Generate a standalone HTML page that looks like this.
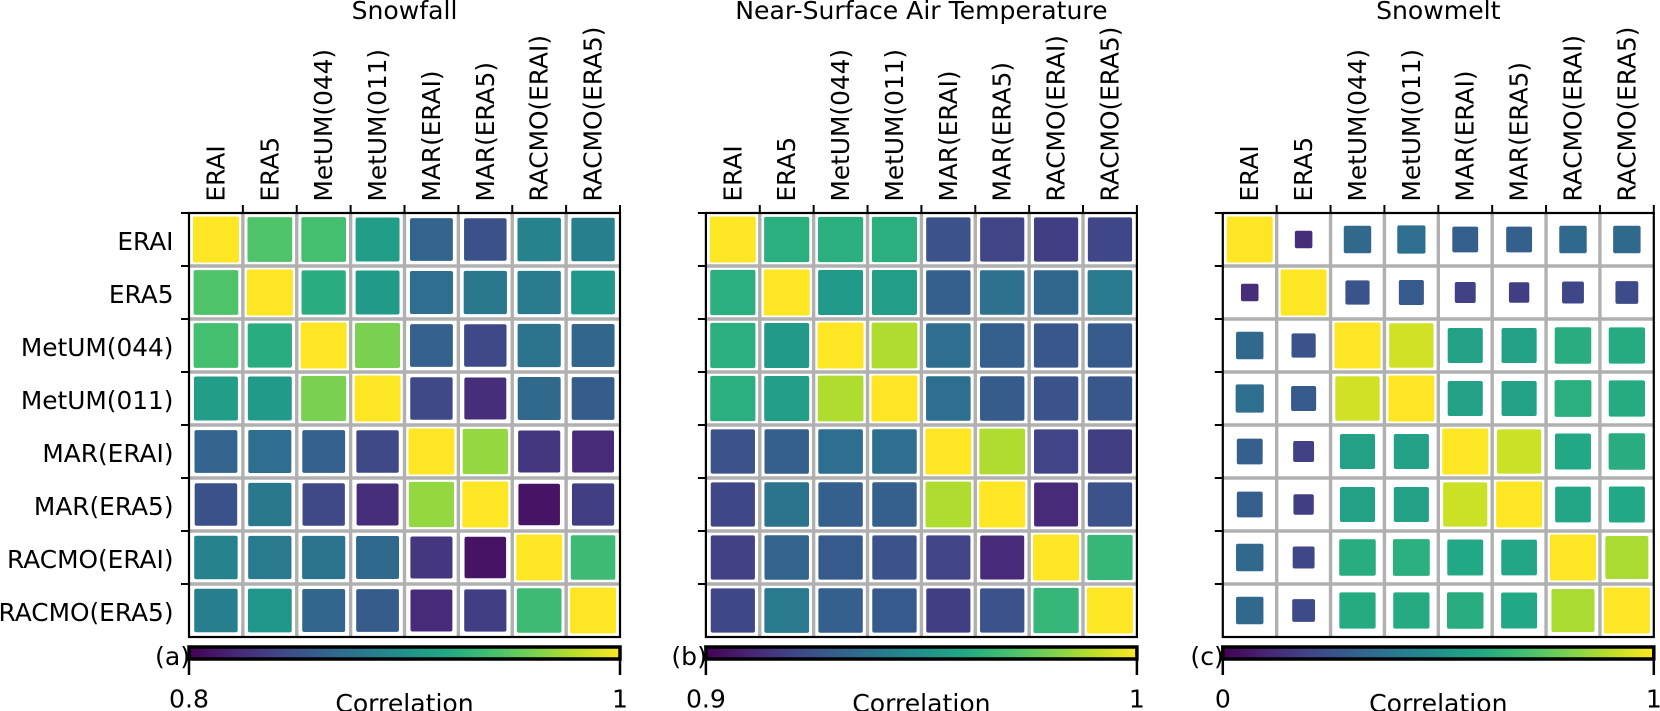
<!DOCTYPE html>
<html lang="en">
<head>
<meta charset="utf-8">
<title>Correlation matrices</title>
<style>
html,body{margin:0;padding:0;background:#fff;width:1660px;height:711px;overflow:hidden}
svg{display:block}
text{font-family:"DejaVu Sans","Liberation Sans",sans-serif;font-size:25.1px;fill:#000}
text.tick-text{font-size:24.8px}
</style>
</head>
<body>
<svg id="chart" xmlns="http://www.w3.org/2000/svg" width="1660" height="711" viewBox="0 0 1660 711">
  <defs>
    <linearGradient id="viridis-gradient" x1="0" x2="1" y1="0" y2="0"></linearGradient>
  </defs>
</svg>
<script>
const modelLabels = ["ERAI","ERA5","MetUM(044)","MetUM(011)","MAR(ERAI)","MAR(ERA5)","RACMO(ERAI)","RACMO(ERA5)"];
const panelTitles = ["Snowfall","Near-Surface Air Temperature","Snowmelt"];
const panelLetters = ["(a)","(b)","(c)"];
const colorbarMin = [0.8,0.9,0];
const colorbarMinLabels = ["0.8","0.9","0"];
const colorbarMaxLabel = "1";
const colorbarTitle = "Correlation";
const snowfallValues = [
  [1,.944,.940,.910,.864,.850,.888,.886],
  [.944,1,.924,.908,.872,.880,.882,.904],
  [.940,.924,1,.960,.862,.844,.876,.866],
  [.910,.908,.960,1,.844,.826,.868,.858],
  [.864,.872,.862,.844,1,.968,.832,.824],
  [.850,.880,.844,.826,.968,1,.810,.836],
  [.888,.882,.876,.868,.832,.810,1,.936],
  [.886,.904,.866,.858,.824,.836,.936,1]
];
const temperatureValues = [
  [1,.963,.963,.963,.925,.920,.918,.921],
  [.963,1,.954,.956,.930,.937,.933,.941],
  [.963,.954,1,.988,.936,.930,.927,.928],
  [.963,.956,.988,1,.936,.929,.926,.927],
  [.925,.930,.936,.936,1,.988,.920,.918],
  [.921,.938,.930,.930,.988,1,.912,.925],
  [.919,.932,.928,.926,.920,.912,1,.966],
  [.921,.941,.930,.928,.918,.925,.966,1]
];
const snowmeltValues = [
  [1,.13,.34,.36,.30,.30,.34,.34],
  [.13,1,.26,.28,.19,.18,.21,.23],
  [.34,.26,1,.93,.57,.57,.62,.61],
  [.36,.28,.93,1,.57,.57,.63,.61],
  [.30,.19,.57,.57,1,.92,.60,.62],
  [.30,.18,.57,.57,.92,1,.59,.60],
  [.34,.21,.62,.63,.60,.59,1,.87],
  [.34,.23,.61,.61,.62,.60,.87,1]
];
const panelValues = [snowfallValues,temperatureValues,snowmeltValues];
const viridisStops = ["#440154","#482475","#414487","#355f8d","#2a788e","#21918c","#22a884","#44bf70","#7ad151","#bddf26","#fde725"];

const svg = document.getElementById('chart');
const NS = 'http://www.w3.org/2000/svg';
const originX = 189;
const panelStep = 516.9;
const plotTop = 213;
const plotW = 431;
const plotH = 424;
const maxSide = 46;

function mk(parent, tag, attrs, text) {
  const el = document.createElementNS(NS, tag);
  for (const k in attrs) el.setAttribute(k, attrs[k]);
  if (text !== undefined) el.textContent = text;
  parent.appendChild(el);
  return el;
}
function rgb(hex) {
  return [1,3,5].map(i => parseInt(hex.substr(i,2),16));
}
function viridis(t) {
  const u = Math.max(0, Math.min(1, t)) * (viridisStops.length - 1);
  const i = Math.min(Math.floor(u), viridisStops.length - 2);
  const a = rgb(viridisStops[i]), b = rgb(viridisStops[i+1]);
  const f = u - i;
  return 'rgb(' + a.map((v,j) => Math.round(v + (b[j]-v)*f)).join(',') + ')';
}

const gradient = document.getElementById('viridis-gradient');
viridisStops.forEach((c,i) => {
  mk(gradient, 'stop', {offset: i/(viridisStops.length-1), 'stop-color': c});
});

panelValues.forEach((matrix, p) => {
  const left = originX + p*panelStep;
  const n = modelLabels.length;
  const xPos = i => left + i*plotW/n;
  const yPos = i => plotTop + i*plotH/n;
  const vmin = colorbarMin[p];
  const colorOf = v => viridis((v-vmin)/(1-vmin));
  const sideOf = v => 1.5 + (maxSide-1.5)*Math.sqrt(Math.abs(v));

  const g = mk(svg, 'g', {});
  
  

  const title = mk(g, 'text', {x: left+plotW/2, y: 19, 'text-anchor': 'middle'}, panelTitles[p]);
  
  

  matrix.forEach((row, r) => {
    row.forEach((v, c) => {
      const side = sideOf(v);
      const cell = mk(g, 'rect', {
        x: xPos(c)+plotW/n/2-side/2,
        y: yPos(r)+plotH/n/2-side/2,
        width: side, height: side, rx: 2, ry: 2,
        fill: colorOf(v)
      });
      
      
    });
  });

  for (let i = 1; i < n; i++) {
    const gv = mk(g, 'line', {x1: xPos(i), x2: xPos(i), y1: plotTop, y2: plotTop+plotH, stroke: '#b0b0b0', 'stroke-width': 3.4});
    
    
    const gh = mk(g, 'line', {x1: left, x2: left+plotW, y1: yPos(i), y2: yPos(i), stroke: '#b0b0b0', 'stroke-width': 3.4});
    
    
  }

  const frame = mk(g, 'rect', {x: left, y: plotTop, width: plotW, height: plotH, fill: 'none', stroke: '#000', 'stroke-width': 2.2});
  
  

  modelLabels.forEach((label, i) => {
    const topTick = mk(g, 'line', {x1: xPos(i+1), x2: xPos(i+1), y1: plotTop-8, y2: plotTop, stroke: '#000', 'stroke-width': 2});
    
    
    const leftTick = mk(g, 'line', {x1: left-8, x2: left, y1: yPos(i), y2: yPos(i), stroke: '#000', 'stroke-width': 2});
    
    
    const bx = xPos(i)+plotW/n/2+8.5;
    const xLabel = mk(g, 'text', {x: bx, y: 201.5, transform: 'rotate(-90 '+bx+' 201.5)', class: 'tick-text'}, label);
    
    
    if (p === 0) {
      const yLabel = mk(g, 'text', {x: left-15.5, y: yPos(i)+plotH/n/2+10.5, 'text-anchor': 'end', class: 'tick-text'}, label);
      
      
    }
  });

  const bar = mk(g, 'rect', {x: left, y: 647, width: plotW, height: 12, fill: 'url(#viridis-gradient)', stroke: '#000', 'stroke-width': 3.5});
  
  
  [0, 1].forEach(k => {
    const t = mk(g, 'line', {x1: left+k*plotW, x2: left+k*plotW, y1: 659, y2: 675, stroke: '#000', 'stroke-width': 2.5});
    
    
  });
  const letter = mk(g, 'text', {x: left+1, y: 665, 'text-anchor': 'end'}, panelLetters[p]);
  
  
  const minLabel = mk(g, 'text', {x: left, y: 707.5, 'text-anchor': 'middle'}, colorbarMinLabels[p]);
  
  
  const maxLabel = mk(g, 'text', {x: left+plotW, y: 707.5, 'text-anchor': 'middle'}, colorbarMaxLabel);
  
  
  const cbTitle = mk(g, 'text', {x: left+plotW/2, y: 712, 'text-anchor': 'middle'}, colorbarTitle);
  
  
});
</script>
</body>
</html>
